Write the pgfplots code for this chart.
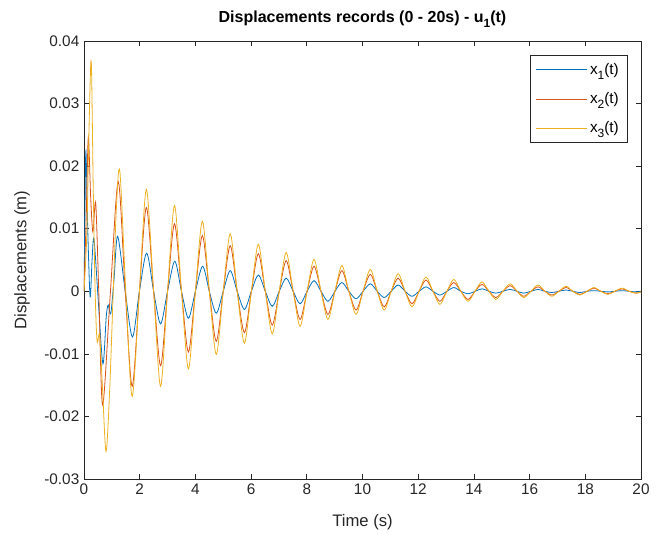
\documentclass[border=0pt]{standalone}
\usepackage{fontspec}
\setmainfont{Liberation Sans}
\usepackage{pgfplots}
\pgfplotsset{compat=1.18}

\definecolor{mblue}{rgb}{0,0.447,0.741}
\definecolor{mred}{rgb}{0.85,0.325,0.098}
\definecolor{myellow}{rgb}{0.929,0.694,0.125}
\definecolor{axgray}{rgb}{0.15,0.15,0.15}
% MATLAB-like lowered subscript
\newcommand{\msub}[1]{\raisebox{-0.6ex}{\fontsize{9}{10}\selectfont #1}}

\begin{document}
\begin{tikzpicture}
\path[use as bounding box] (-63pt,-42pt) rectangle (437.25pt,359.25pt);
\begin{axis}[
  scale only axis,
  width=417.75pt, height=328.5pt,
  xmin=0, xmax=20, ymin=-0.03, ymax=0.04,
  xtick={0,2,...,20},
  ytick={-0.03,-0.02,-0.01,0,0.01,0.02,0.03,0.04},
  yticklabels={-0.03,-0.02,-0.01,0,0.01,0.02,0.03,0.04},
  scaled y ticks=false,
  tick align=inside,
  major tick length=4pt,
  axis line style={axgray, line width=0.5pt},
  tick style={axgray, line width=0.5pt},
  ticklabel style={font=\fontsize{11.5}{13}\selectfont, text=axgray},
  /pgf/number format/assume math mode=true,
  xlabel={Time (s)},
  ylabel={Displacements (m)},
  label style={font=\fontsize{12.5}{14}\selectfont, text=axgray},
  xlabel style={at={(axis description cs:0.5,-0.098)}, anchor=center},
  ylabel style={at={(axis description cs:-0.1113,0.5)}, anchor=center},
  every axis title shift=0pt,
  title={\textbf{Displacements records (0 - 20s) - u\msub{\textbf{1}}(t)}},
  title style={font=\fontsize{12}{14}\selectfont, at={(axis description cs:0.5,1)}, anchor=base, yshift=14pt},
  legend style={at={(0.975,0.968)}, anchor=north east, draw=axgray,
    font=\fontsize{11.5}{13}\selectfont, row sep=8pt, inner xsep=4pt, inner ysep=4pt},
  legend cell align=left,
  legend image code/.code={\draw[#1] (0pt,0pt) -- (38pt,0pt);},
  every axis plot/.append style={line width=0.6pt, smooth, tension=0.5},
]
\addplot[mblue] coordinates {
(0,0) (0.035,0.013) (0.07,0.0224) (0.14,0.009) (0.22,-0.0009) (0.29,0.005) (0.36,0.0083)
(0.52,-0.002) (0.68,-0.0116) (0.80,-0.004) (0.87,-0.0022) (0.96,-0.0036) (1.08,0.002)
(1.21,0.0088) (1.48,0) (1.74,-0.0073) (1.99,0) (2.25,0.0061) (2.50,0) (2.75,-0.0052)
(3.00,0) (3.26,0.0048) (3.50,0) (3.75,-0.0043) (4.00,0) (4.26,0.0040) (4.50,0)
(4.75,-0.0035) (5.00,0) (5.25,0.0033) (5.50,0) (5.76,-0.0029) (6.01,0) (6.26,0.0026)
(6.51,0) (6.76,-0.0024) (7.01,0) (7.26,0.0021) (7.51,0) (7.76,-0.0020) (8.01,0)
(8.26,0.0017) (8.51,0) (8.76,-0.0016) (9.01,0) (9.26,0.0014) (9.51,0) (9.77,-0.0012)
(10.02,0) (10.28,0.0012) (10.53,0) (10.78,-0.0010) (11.03,0) (11.28,0.0010) (11.53,0)
(11.78,-0.0008) (12.03,0) (12.28,0.0007) (12.53,0) (12.78,-0.0006) (13.03,0)
(13.28,0.0006) (13.53,0) (13.79,-0.0004) (14.04,0) (14.29,0.0004) (14.54,0)
(14.79,-0.0003) (15.04,0) (15.30,0.0003) (15.55,0) (15.79,-0.0003) (16.05,0)
(16.30,0.0003) (16.55,0) (16.80,-0.0002) (17.05,0) (17.31,0.0002) (17.55,0)
(17.80,-0.0002) (18.06,0) (18.31,0.0001) (18.56,0) (18.81,-0.0001) (19.06,0)
(19.32,0.0001) (19.57,0) (19.82,-0.0001) (20,0)
};
\addlegendentry{x\msub{1}(t)}
\addplot[mred] coordinates {
(0,0) (0.08,0.012) (0.155,0.0246) (0.24,0.015) (0.32,0.0095) (0.42,0.0141) (0.53,0)
(0.67,-0.0182) (0.95,0) (1.23,0.0175) (1.48,0) (1.73,-0.0152) (1.99,0) (2.24,0.0134)
(2.50,0) (2.75,-0.0119) (3.00,0) (3.25,0.0108) (3.50,0) (3.75,-0.0097) (4.00,0)
(4.25,0.0089) (4.50,0) (4.75,-0.0080) (5.00,0) (5.25,0.0073) (5.50,0) (5.76,-0.0066)
(6.01,0) (6.26,0.0060) (6.51,0) (6.76,-0.0054) (7.01,0) (7.26,0.0049) (7.51,0)
(7.76,-0.0045) (8.01,0) (8.26,0.0040) (8.51,0) (8.76,-0.0037) (9.01,0) (9.26,0.0033)
(9.51,0) (9.77,-0.0030) (10.02,0) (10.28,0.0027) (10.53,0) (10.78,-0.0025) (11.03,0)
(11.28,0.0021) (11.53,0) (11.78,-0.0020) (12.03,0) (12.28,0.0018) (12.53,0)
(12.78,-0.0016) (13.03,0) (13.28,0.0014) (13.53,0) (13.79,-0.0013) (14.04,0)
(14.29,0.0011) (14.54,0) (14.79,-0.0010) (15.04,0) (15.30,0.0009) (15.55,0)
(15.79,-0.0008) (16.05,0) (16.30,0.0007) (16.55,0) (16.80,-0.0006) (17.05,0)
(17.31,0.0006) (17.55,0) (17.80,-0.0005) (18.06,0) (18.31,0.0005) (18.56,0)
(18.81,-0.0004) (19.06,0) (19.32,0.0004) (19.57,0) (19.82,-0.0003) (20,-0.0001)
};
\addlegendentry{x\msub{2}(t)}
\addplot[myellow] coordinates {
(0,0) (0.10,0.009) (0.18,0.026) (0.26,0.0368) (0.33,0.017) (0.40,0) (0.47,-0.0080)
(0.56,-0.0070) (0.66,-0.0150) (0.79,-0.0256) (0.92,-0.016) (1.05,0) (1.17,0.014)
(1.29,0.0191) (1.50,0) (1.73,-0.0168) (1.99,0) (2.24,0.0163) (2.50,0) (2.75,-0.0152)
(3.00,0) (3.25,0.0137) (3.50,0) (3.75,-0.0124) (4.00,0) (4.25,0.0112) (4.50,0)
(4.75,-0.0101) (5.00,0) (5.25,0.0092) (5.50,0) (5.76,-0.0083) (6.01,0) (6.26,0.0075)
(6.51,0) (6.76,-0.0068) (7.01,0) (7.26,0.0062) (7.51,0) (7.76,-0.0056) (8.01,0)
(8.26,0.0051) (8.51,0) (8.76,-0.0045) (9.01,0) (9.26,0.0041) (9.51,0) (9.77,-0.0037)
(10.02,0) (10.28,0.0035) (10.53,0) (10.78,-0.0030) (11.03,0) (11.28,0.0028) (11.53,0)
(11.78,-0.0025) (12.03,0) (12.28,0.0023) (12.53,0) (12.78,-0.0021) (13.03,0)
(13.28,0.0019) (13.53,0) (13.79,-0.0016) (14.04,0) (14.29,0.0015) (14.54,0)
(14.79,-0.0013) (15.04,0) (15.30,0.0012) (15.55,0) (15.79,-0.0010) (16.05,0)
(16.30,0.0010) (16.55,0) (16.80,-0.0008) (17.05,0) (17.31,0.0008) (17.55,0)
(17.80,-0.0006) (18.06,0) (18.31,0.0006) (18.56,0) (18.81,-0.0005) (19.06,0)
(19.32,0.0005) (19.57,0) (19.82,-0.0003) (20,-0.0001)
};
\addlegendentry{x\msub{3}(t)}
\end{axis}
\end{tikzpicture}
\end{document}
